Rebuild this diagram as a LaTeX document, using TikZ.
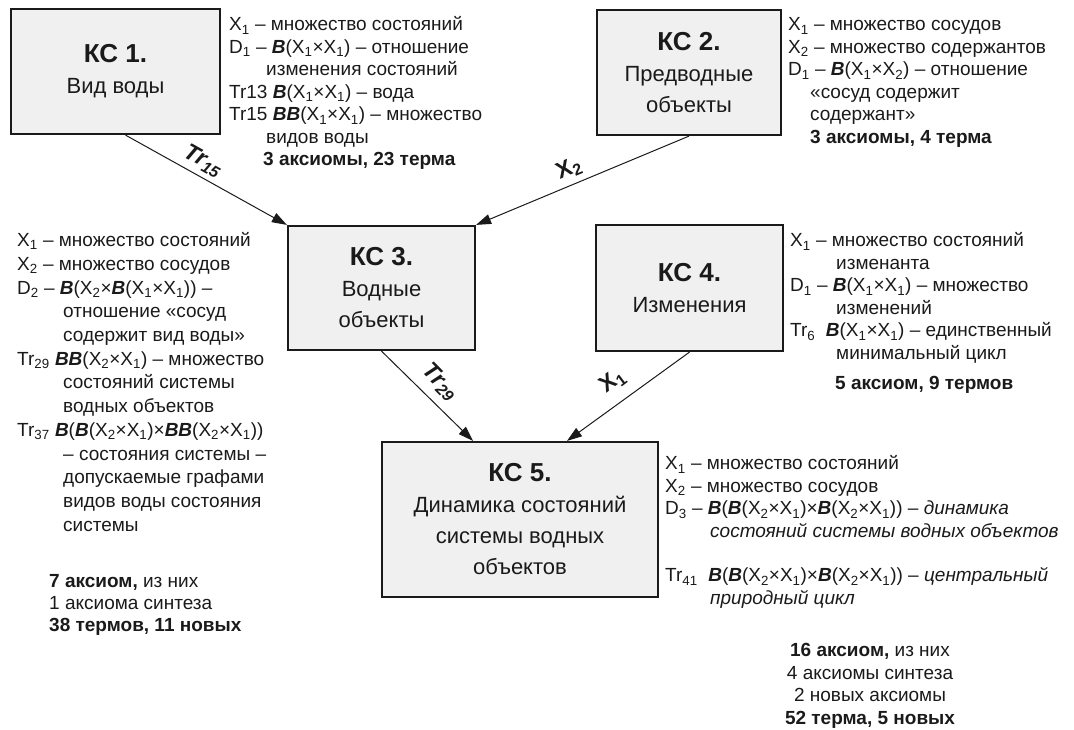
\documentclass[tikz,border=0pt]{standalone}
\usepackage{fontspec}
\setmainfont{Liberation Sans}
\usetikzlibrary{arrows.meta,calc}
\newcommand{\sbs}[1]{\textsubscript{#1}}
\newcommand{\BI}[1]{\textbf{\textit{#1}}}
\newcommand{\ind}[1]{\hspace*{#1pt}}
\newcommand{\ttl}[1]{{\fontsize{26}{31}\selectfont\bfseries #1}}
\definecolor{ink}{HTML}{1A1A1A}
\definecolor{boxfill}{HTML}{F0F0F0}
\begin{document}
\begin{tikzpicture}[x=1pt,y=-1pt,
 kbox/.style={draw=ink,line width=2.2pt,fill=boxfill,align=center,inner sep=0pt,font=\fontsize{22}{31}\selectfont,text=ink},
 txt/.style={anchor=north west,inner sep=0pt,align=left,font=\fontsize{19}{22.5}\selectfont,text=ink},
 txtw/.style={txt,font=\fontsize{19}{23.7}\selectfont},
 ctxt/.style={anchor=north,inner sep=0pt,align=center,font=\fontsize{19}{22.5}\selectfont,text=ink},
 conn/.style={draw=ink,line width=1pt,-{Triangle[length=15pt,width=10pt]}},
 lbl/.style={inner sep=0pt,font=\fontsize{23}{23}\selectfont\bfseries,text=ink}]
\useasboundingbox (0,0) rectangle (1074,729);

% boxes
\node[kbox,minimum width=209pt,minimum height=125pt] (k1) at (115.5,71.5) {\ttl{КС 1.}\\Вид воды};
\node[kbox,minimum width=184pt,minimum height=125pt] (k2) at (689,72.5) {\ttl{КС 2.}\\Предводные\\объекты};
\node[kbox,minimum width=187pt,minimum height=124pt] (k3) at (381.5,288) {\ttl{КС 3.}\\Водные\\объекты};
\node[kbox,minimum width=187pt,minimum height=126pt] (k4) at (689.5,288) {\ttl{КС 4.}\\Изменения};
\node[kbox,minimum width=276pt,minimum height=155pt] (k5) at (520,519.5) {\ttl{КС 5.}\\Динамика состояний\\системы водных\\объектов};

% connectors
\draw[conn] ($(k1.south)+(10,0)$) -- (k3.north west);
\draw[conn] (k2.south) -- (k3.north east);
\draw[conn] (k3.south) -- ($(k5.north)+(-47,0)$);
\draw[conn] (k4.south) -- ($(k5.north)+(47,0)$);

% connector labels
\node[lbl,rotate=-29.4] (l15) at (203,161) {\itshape Tr\sbs{15}};
\node[lbl,rotate=23] (lx2) at (569,169) {X\sbs{2}};
\node[lbl,rotate=-45.6] (l29) at (440,382) {\itshape Tr\sbs{29}};
\node[lbl,rotate=37] (lx1) at (613,381) {X\sbs{1}};

% text blocks
\node[txt] (t1) at (229,15) {\strut X\sbs{1} – множество состояний\\
D\sbs{1} – \BI{B}(X\sbs{1}×X\sbs{1}) – отношение\\
\ind{37}изменения состояний\\
Tr13 \BI{B}(X\sbs{1}×X\sbs{1}) – вода\\
Tr15 \BI{BB}(X\sbs{1}×X\sbs{1}) – множество\\
\ind{37}видов воды\\
\ind{34}\textbf{3 аксиомы, 23 терма}};

\node[txt] (t2) at (788,15) {\strut X\sbs{1} – множество сосудов\\
X\sbs{2} – множество содержантов\\
D\sbs{1} – \BI{B}(X\sbs{1}×X\sbs{2}) – отношение\\
\ind{22}«сосуд содержит\\
\ind{22}содержант»\\
\ind{22}\textbf{3 аксиомы, 4 терма}};

\node[txtw] (t3) at (17,230) {\strut X\sbs{1} – множество состояний\\
X\sbs{2} – множество сосудов\\
D\sbs{2} – \BI{B}(X\sbs{2}×\BI{B}(X\sbs{1}×X\sbs{1})) –\\
\ind{46}отношение «сосуд\\
\ind{46}содержит вид воды»\\
Tr\sbs{29} \BI{BB}(X\sbs{2}×X\sbs{1}) – множество\\
\ind{46}состояний системы\\
\ind{46}водных объектов\\
Tr\sbs{37} \BI{B}(\BI{B}(X\sbs{2}×X\sbs{1})×\BI{BB}(X\sbs{2}×X\sbs{1}))\\
\ind{46}– состояния системы –\\
\ind{46}допускаемые графами\\
\ind{46}видов воды состояния\\
\ind{46}системы};

\node[txt,font=\fontsize{19}{21.8}\selectfont] (t3b) at (49,572) {\strut\textbf{7 аксиом,} из них\\
1 аксиома синтеза\\
\textbf{38 термов, 11 новых}};

\node[txt] (t4) at (790,231) {\strut X\sbs{1} – множество состояний\\
\ind{46}изменанта\\
D\sbs{1} – \BI{B}(X\sbs{1}×X\sbs{1}) – множество\\
\ind{46}изменений\\
Tr\sbs{6}\ \ \BI{B}(X\sbs{1}×X\sbs{1}) – единственный\\
\ind{46}минимальный цикл\\[7.5pt]
\ind{45}\textbf{5 аксиом, 9 термов}};

\node[txt] (t5) at (665,454) {\strut X\sbs{1} – множество состояний\\
X\sbs{2} – множество сосудов\\
D\sbs{3} – \BI{B}(\BI{B}(X\sbs{2}×X\sbs{1})×\BI{B}(X\sbs{2}×X\sbs{1})) – \textit{динамика}\\
\ind{45}\textit{состояний системы водных объектов}\\[22pt]
Tr\sbs{41}\ \ \BI{B}(\BI{B}(X\sbs{2}×X\sbs{1})×\BI{B}(X\sbs{2}×X\sbs{1})) – \textit{центральный}\\
\ind{45}\textit{природный цикл}};

\node[ctxt] (t6) at (870,641) {\strut\textbf{16 аксиом,} из них\\
4 аксиомы синтеза\\
2 новых аксиомы\\
\textbf{52 терма, 5 новых}};
\end{tikzpicture}
\end{document}
